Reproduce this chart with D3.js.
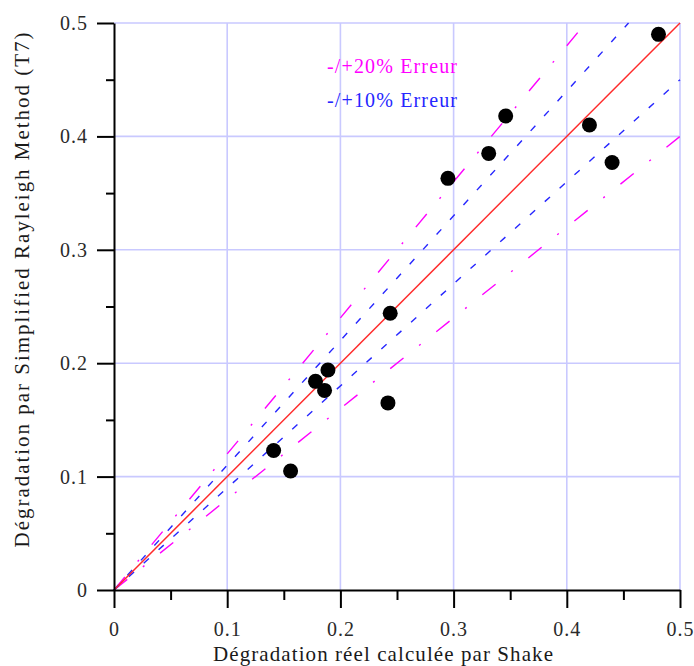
<!DOCTYPE html>
<html>
<head>
<meta charset="utf-8">
<script src="https://cdn.jsdelivr.net/npm/d3@7"></script>
<style>
  html, body { margin: 0; padding: 0; background: #fff; }
  svg { display: block; }
  text { font-family: "Liberation Serif", "Times New Roman", serif; }
</style>
</head>
<body>
<svg id="chart" width="694" height="666"></svg>
<script>
// Measured degradation (Shake) vs. predicted degradation (Simplified Rayleigh, T7)
const shakeValues    = [0.481, 0.346, 0.420, 0.331, 0.440, 0.295, 0.244, 0.242, 0.189, 0.178, 0.186, 0.141, 0.156];
const rayleighValues = [0.490, 0.418, 0.410, 0.385, 0.377, 0.363, 0.244, 0.165, 0.194, 0.184, 0.176, 0.123, 0.105];

// Reference bands around the identity line
const errorLevels = [0.2, 0.1];
const errorLabels = ["-/+20% Erreur", "-/+10% Erreur"];
const errorColors = ["#ff00ff", "#2626ff"];
const errorDashes = ["17,20,2,20", "7,13"];

const majorTicks = [0, 0.1, 0.2, 0.3, 0.4, 0.5];
const minorTicks = [0.05, 0.15, 0.25, 0.35, 0.45];
const domainMax = 0.5;

const xTitle = "Dégradation réel calculée par Shake";
const yTitle = "Dégradation par Simplified Rayleigh Method (T7)";

const svg = d3.select("#chart");
const x = d3.scaleLinear().domain([0, domainMax]).range([114, 680]);
const y = d3.scaleLinear().domain([0, domainMax]).range([590, 23]);
const fmt = d => d === 0 ? "0" : d3.format(".1f")(d);

// Grid
const grid = svg.append("g").attr("stroke", "#c9c9ff").attr("stroke-width", 1.6);
majorTicks.filter(d => d > 0).forEach(d => {
  grid.append("line").attr("x1", x(d)).attr("x2", x(d)).attr("y1", y(0)).attr("y2", y(domainMax));
  grid.append("line").attr("x1", x(0)).attr("x2", x(domainMax)).attr("y1", y(d)).attr("y2", y(d));
});

// Error band lines
const lineGen = d3.line().x(d => x(d[0])).y(d => y(d[1]));
const plot = svg.append("g");
errorLevels.forEach((e, i) => {
  [1 + e, 1 - e].forEach(f => {
    const xEnd = Math.min(domainMax, domainMax / f);
    plot.append("path")
      .datum([[0, 0], [xEnd, f * xEnd]])
      .attr("d", lineGen)
      .attr("fill", "none")
      .attr("stroke", errorColors[i])
      .attr("stroke-width", 1.4)
      .attr("stroke-dasharray", errorDashes[i]);
  });
});

// Identity line
plot.append("path")
  .datum([[0, 0], [domainMax, domainMax]])
  .attr("d", lineGen)
  .attr("fill", "none")
  .attr("stroke", "#ff2a2a")
  .attr("stroke-width", 1.5);

// Data points
plot.selectAll("circle")
  .data(shakeValues.map((v, i) => [v, rayleighValues[i]]))
  .join("circle")
  .attr("cx", d => x(d[0]))
  .attr("cy", d => y(d[1]))
  .attr("r", 7.5)
  .attr("fill", "#000");

// Axes
function styleAxis(g) {
  g.select(".domain").attr("stroke", "#000").attr("stroke-width", 2);
  g.selectAll(".tick line").attr("stroke", "#000").attr("stroke-width", 2);
  g.selectAll("text")
    .attr("fill", "#2a2a2a")
    .attr("font-family", "Liberation Serif, serif")
    .attr("font-size", 20)
    .attr("letter-spacing", "1px");
}

const xAxis = svg.append("g").attr("transform", `translate(0,${y(0)})`)
  .call(d3.axisBottom(x).tickValues(majorTicks).tickFormat(fmt).tickSize(18).tickSizeOuter(0).tickPadding(14));
styleAxis(xAxis);

svg.append("g").attr("transform", `translate(0,${y(0)})`)
  .call(d3.axisBottom(x).tickValues(minorTicks).tickFormat("").tickSize(10))
  .call(g => { g.select(".domain").remove(); g.selectAll("line").attr("stroke", "#000").attr("stroke-width", 2); });

const yAxis = svg.append("g").attr("transform", `translate(${x(0)},0)`)
  .call(d3.axisLeft(y).tickValues(majorTicks).tickFormat(fmt).tickSize(17).tickSizeOuter(0).tickPadding(9));
styleAxis(yAxis);

svg.append("g").attr("transform", `translate(${x(0)},0)`)
  .call(d3.axisLeft(y).tickValues(minorTicks).tickFormat("").tickSize(8))
  .call(g => { g.select(".domain").remove(); g.selectAll("line").attr("stroke", "#000").attr("stroke-width", 2); });

// Axis titles
svg.append("text")
  .attr("x", 383).attr("y", 661)
  .attr("text-anchor", "middle")
  .attr("fill", "#1a1a1a")
  .attr("font-size", 21)
  .attr("textLength", 340).attr("lengthAdjust", "spacing")
  .text(xTitle);

svg.append("text")
  .attr("transform", "translate(29,290) rotate(-90)")
  .attr("text-anchor", "middle")
  .attr("fill", "#1a1a1a")
  .attr("font-size", 21)
  .attr("textLength", 515).attr("lengthAdjust", "spacing")
  .text(yTitle);

// Legend
const legendY = [73, 107];
errorLabels.forEach((t, i) => {
  svg.append("text")
    .attr("x", 327).attr("y", legendY[i])
    .attr("fill", errorColors[i])
    .attr("font-size", 20)
    .attr("textLength", 130).attr("lengthAdjust", "spacing")
    .text(t);
});
</script>
</body>
</html>
